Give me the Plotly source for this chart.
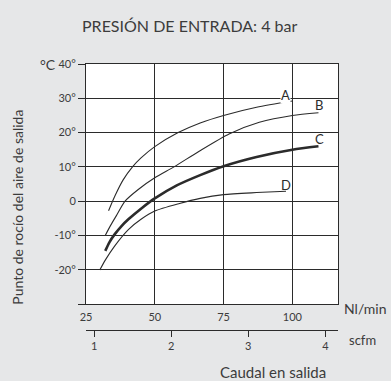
import plotly.graph_objects as go

# Flow (Nl/min) versus outlet dew point (°C) for four dryer sizes
flow_a = [33.2, 35.5, 38.5, 41.9, 45, 50, 58.5, 66.5, 75, 87, 100]
dew_a = [-2.8, 1.5, 6.2, 10, 12.6, 15.9, 20, 22.8, 25, 27.4, 29.2]

flow_b = [32, 34, 36, 39.2, 44, 50, 57, 66, 77, 88, 100, 109.5]
dew_b = [-10, -7, -4.3, 0, 3.4, 6.8, 10, 14.5, 19.6, 23, 25, 25.8]

flow_c = [32, 33.5, 35.4, 38, 40.4, 45, 50, 58, 66.5, 75, 87, 100, 109.5]
dew_c = [-14.5, -12, -9.7, -7.2, -5.3, -2.2, 0.8, 4.6, 7.6, 10.2, 12.9, 15, 16]

flow_d = [30, 32, 35.4, 40.4, 45, 50, 59, 66.5, 75, 87, 97.7]
dew_d = [-20.1, -17.2, -13.1, -8.3, -5.3, -2.9, -0.7, 0.8, 1.9, 2.5, 2.9]

curve_names = ["A", "B", "C", "D"]
curve_label_pos = [(97.4, 31.0), (109.6, 27.9), (109.8, 18.2), (97.7, 4.6)]

y_ticks = [-30, -20, -10, 0, 10, 20, 30, 40]
y_tick_text = ["", "-20°", "-10°", "0", "10°", "20°", "30°", "40°"]
x_ticks = [25, 50, 75, 100]
scfm_ticks = [1, 2, 3, 4]

NL_RANGE = [25, 116.6]
NL_PER_SCFM = 28.0
SCFM_RANGE = [v / NL_PER_SCFM for v in NL_RANGE]

INK = "#2b2b2b"
TEXT = "#3c3c3c"
FONT = "Lato"

fig = go.Figure()

series = [(flow_a, dew_a, 1.1), (flow_b, dew_b, 1.1), (flow_c, dew_c, 2.6), (flow_d, dew_d, 1.1)]
for (xs, ys, w), name in zip(series, curve_names):
    fig.add_trace(go.Scatter(x=xs, y=ys, mode="lines", name=name,
                             line=dict(color=INK, width=w, shape="spline", smoothing=0.7),
                             hoverinfo="skip", showlegend=False))

# empty trace so the scfm axis gets drawn
fig.add_trace(go.Scatter(x=[], y=[], xaxis="x2", yaxis="y", showlegend=False))

for name, (lx, ly) in zip(curve_names, curve_label_pos):
    fig.add_annotation(x=lx, y=ly, text=name, showarrow=False,
                       font=dict(family=FONT, size=13, color=INK),
                       bgcolor="white" if name == "A" else None, borderpad=0)

fig.update_layout(
    width=391, height=381,
    margin=dict(l=86, r=53, t=64, b=46),
    paper_bgcolor="#e6e7e8",
    plot_bgcolor="white",
    font=dict(family=FONT, color=TEXT),
    xaxis=dict(range=NL_RANGE, tickvals=x_ticks, showgrid=True, gridcolor=INK, gridwidth=1,
               showline=True, linecolor=INK, linewidth=1, mirror=True, ticks="",
               ticklabelstandoff=3,
               tickfont=dict(size=11, color=TEXT), zeroline=False, anchor="y"),
    xaxis2=dict(range=SCFM_RANGE, tickvals=scfm_ticks, overlaying="x", anchor="free",
                position=0.0185, side="bottom", showgrid=False, zeroline=False,
                showline=True, linecolor=INK, linewidth=1, ticks="outside", ticklen=6,
                tickcolor=INK, tickfont=dict(size=11, color=TEXT)),
    yaxis=dict(range=[-30, 40], domain=[0.1144, 1], tickvals=y_ticks, ticktext=y_tick_text,
               showgrid=True, gridcolor=INK, gridwidth=1, showline=True, linecolor=INK,
               linewidth=1, mirror=True, ticks="outside", ticklen=7, tickcolor=INK,
               tickfont=dict(size=11, color=TEXT), zeroline=False),
)

fig.add_annotation(xref="paper", yref="paper", x=0.41, y=1, yshift=39, yanchor="middle",
                   xanchor="center", text="PRESIÓN DE ENTRADA: 4 bar", showarrow=False,
                   font=dict(family=FONT, size=16, color=TEXT))
fig.add_annotation(xref="paper", yref="y", x=0, xshift=-28, y=40, xanchor="right",
                   yanchor="middle", text="°C", showarrow=False,
                   font=dict(family=FONT, size=14, color=TEXT))
fig.add_annotation(xref="paper", yref="paper", x=0, xshift=-68, y=0.47, textangle=-90,
                   xanchor="center", yanchor="middle",
                   text="Punto de rocío del aire de salida", showarrow=False,
                   font=dict(family=FONT, size=14, color=TEXT))
fig.add_annotation(xref="paper", yref="y", x=1, xshift=4, y=-30, yshift=-4, xanchor="left",
                   yanchor="middle", text="Nl/min", showarrow=False,
                   font=dict(family=FONT, size=14, color=TEXT))
fig.add_annotation(xref="paper", yref="paper", x=1, xshift=9, y=0.0185, yshift=-10,
                   xanchor="left", yanchor="middle", text="scfm", showarrow=False,
                   font=dict(family=FONT, size=13, color=TEXT))
fig.add_annotation(xref="paper", yref="paper", x=0.744, y=0, yshift=-37,
                   xanchor="center", yanchor="middle",
                   text="Caudal en salida", showarrow=False,
                   font=dict(family=FONT, size=15, color=TEXT))

fig.write_html("out.html")
